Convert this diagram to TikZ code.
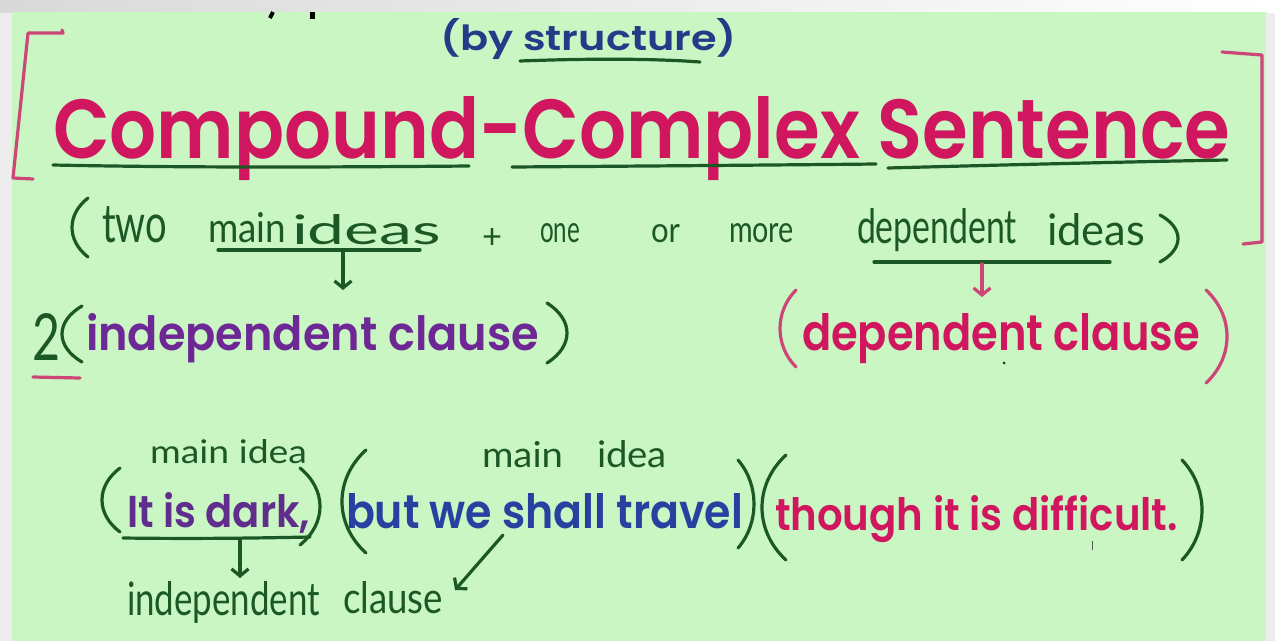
\documentclass[tikz,border=0pt]{standalone}
\usepackage{fontspec}
\usepackage{graphicx}
\usetikzlibrary{arrows.meta}
\newfontfamily\geo{Poppins SemiBold}
\newfontfamily\hand{Lato}
\definecolor{bg}{RGB}{201,246,194}
\definecolor{pinktx}{RGB}{208,22,94}
\definecolor{pinkpen}{RGB}{205,70,120}
\definecolor{navy}{RGB}{35,60,135}
\definecolor{bluetx}{RGB}{40,65,160}
\definecolor{purp}{RGB}{110,40,150}
\definecolor{purp2}{RGB}{95,45,140}
\definecolor{hgreen}{RGB}{28,88,38}
\newcommand{\fitt}[3]{\resizebox{#1pt}{#2pt}{#3}}
% left paren: xl xr ytop ybot
\newcommand{\lpar}[5][]{\draw[pen,#1] (#3,#4) .. controls ({#3-(#3-#2)*4/3},{#4+(#5-#4)*0.28}) and ({#3-(#3-#2)*4/3},{#5-(#5-#4)*0.28}) .. (#3,#5);}
\newcommand{\rpar}[5][]{\draw[pen,#1] (#2,#4) .. controls ({#2+(#3-#2)*4/3},{#4+(#5-#4)*0.28}) and ({#2+(#3-#2)*4/3},{#5-(#5-#4)*0.28}) .. (#2,#5);}
\tikzset{
  bold/.style={inner sep=0pt, outer sep=0pt, anchor=base west, font=\geo\fontsize{40}{40}\selectfont},
  hw/.style={inner sep=0pt, outer sep=0pt, anchor=base west, text=hgreen, font=\hand\fontsize{40}{40}\selectfont},
  pen/.style={line width=3.2pt, line cap=round, line join=round, draw=hgreen},
  pinkline/.style={pen, draw=pinkpen},
  arr/.style={pen, -{Straight Barb[length=7pt,width=17pt]}},
}
\begin{document}
\begin{tikzpicture}[x=1pt,y=-1pt]
\useasboundingbox (0,0) rectangle (1275,641);
% background
\fill[gray!14] (0,0) rectangle (1275,641);
\shade[left color=gray!30, right color=white] (0,0) rectangle (1275,12);
\fill[bg] (12,12) rectangle (1266,641);
% cut-off marks at top
\draw[line width=4pt, black] (273,12) -- (270,18);
\draw[line width=5pt, black] (312,12) -- (312,19);

% brackets
\draw[pinkline] (62,30) -- (63,33) -- (28,33) -- (13,178) -- (33,179);
\draw[pinkline] (1222,52) -- (1262,55) -- (1262,242) -- (1243,244);

% line 1
\node[bold, text=navy] (by) at (440,50) {\fitt{297}{32}{(by structure)}};
\draw[pen] (520,61) .. controls (600,58) and (660,59) .. (700,62);

% title
\node[bold, text=pinktx] (title) at (53,158) {\fitt{1177}{62}{Compound-Complex Sentence}};
\draw[pen] (53,165) .. controls (200,168) and (350,167) .. (469,166);
\draw[pen] (512,167) .. controls (650,166) and (780,165) .. (876,164);
\draw[pen] (888,168) .. controls (1000,165) and (1120,162) .. (1227,160);

% handwritten row 3
\lpar{72}{88}{198}{257}
\node[hw] (w1) at (102,242) {\fitt{65}{36}{two}};
\node[hw] (w2) at (208,242) {\fitt{78}{30}{main}};
\node[hw] (w3) at (292,244) {\fitt{149}{30}{ideas}};
\node[hw] (w4) at (482,248) {\fitt{20}{20}{+}};
\node[hw] (w5) at (540,242) {\fitt{40}{19}{one}};
\node[hw] (w6) at (651,242) {\fitt{29}{18}{or}};
\node[hw] (w7) at (729,242) {\fitt{65}{19}{more}};
\node[hw] (w8) at (857,243) {\fitt{160}{35}{dependent}};
\node[hw] (w9) at (1047,245) {\fitt{98}{32}{ideas}};
\rpar{1160}{1178}{215}{262}
\draw[pen] (218,250) -- (420,250);
\draw[pen] (874,262) -- (1110,262);
\coordinate (a1s) at (343,252);
\coordinate (a2s) at (982,264);

% row 4
\node[hw] (two) at (33,360) {\fitt{28}{47}{2}};
\draw[pinkline] (33,377) -- (80,378);
\lpar{62}{82}{306}{362}
\node[bold, text=purp] (indep) at (86,350) {\fitt{453}{37}{independent clause}};
\rpar{547}{567}{303}{363}
\lpar[pinkline]{780}{796}{290}{367}
\node[bold, text=pinktx] (dep) at (802,350) {\fitt{398}{37}{dependent clause}};
\rpar[pinkline]{1206}{1227}{290}{383}
\fill[hgreen!60!black] (1004,363) circle (1.5pt);
\draw[arr] (a1s) -- (343,290);
\draw[arr, draw=pinkpen] (a2s) -- (982,297);

% row 5 labels
\node[hw] (mi1) at (150,463) {\fitt{157}{24}{main idea}};
\node[hw] (mi2a) at (482,467) {\fitt{81}{26}{main}};
\node[hw] (mi2b) at (597,467) {\fitt{70}{27}{idea}};

% row 6
\lpar{102}{120}{468}{532}
\node[bold, text=purp2] (dark) at (127,527) {\fitt{183}{35}{It is dark,}};
\rpar{300}{320}{468}{545}
\lpar{342}{366}{450}{553}
\node[bold, text=bluetx] (travel) at (346,528) {\fitt{397}{35}{but we shall travel}};
\rpar{738}{754}{460}{548}
\lpar{762}{786}{455}{560}
\node[bold, text=pinktx] (diff) at (775,530) {\fitt{403}{35}{though it is difficult.}};
\rpar{1182}{1202}{460}{560}
\draw[line width=1pt, gray!70!black] (1092,541) -- (1092,550);
\draw[pen] (123,538) .. controls (200,539) and (260,538) .. (310,537);

% row 7
\coordinate (a3s) at (240,540);
\coordinate (a4s) at (503,535);
\node[hw] (ic1) at (127,615) {\fitt{193}{34}{independent}};
\node[hw] (ic2) at (343,613) {\fitt{100}{32}{clause}};
\draw[arr] (a3s) -- (240,578);
\draw[arr] (a4s) -- (455,590);
\end{tikzpicture}
\end{document}
